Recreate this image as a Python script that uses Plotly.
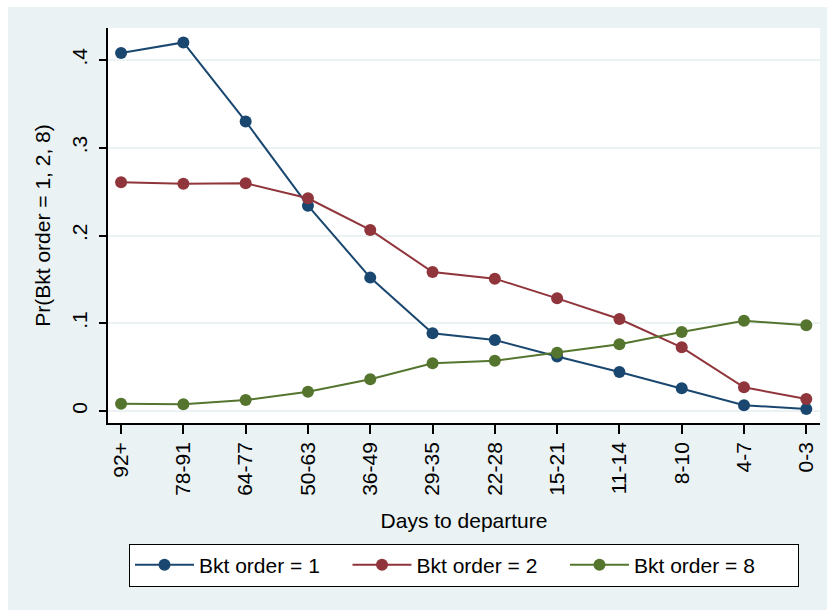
import plotly.graph_objects as go

# Days-to-departure buckets (furthest first)
days = ["92+", "78-91", "64-77", "50-63", "36-49", "29-35",
        "22-28", "15-21", "11-14", "8-10", "4-7", "0-3"]

# Predicted probability of each booking order
bkt1 = [0.408, 0.420, 0.330, 0.234, 0.152, 0.0885,
        0.081, 0.062, 0.0444, 0.0258, 0.0065, 0.0023]
bkt2 = [0.2606, 0.259, 0.2595, 0.2424, 0.2063, 0.1584,
        0.1508, 0.1284, 0.1048, 0.0726, 0.027, 0.0137]
bkt8 = [0.0083, 0.0076, 0.0125, 0.022, 0.0361, 0.0543,
        0.0573, 0.0665, 0.076, 0.090, 0.1029, 0.0977]

y_ticks = [0, 0.1, 0.2, 0.3, 0.4]
y_ticktext = ["0", ".1", ".2", ".3", ".4"]

series = [
    ("Bkt order = 1", bkt1, "#1A476F", None),
    ("Bkt order = 2", bkt2, "#90353B", None),
    ("Bkt order = 8", bkt8, "#55752F", 159),  # wider last entry pads the box
]

FONT = "Liberation Sans, Arial, sans-serif"
BG = "#EAF2F3"

fig = go.Figure()
for name, vals, col, lw in series:
    fig.add_trace(go.Scatter(
        x=days, y=vals, name=name, mode="lines+markers",
        line=dict(color=col, width=2),
        marker=dict(color=col, size=12),
        legendwidth=lw,
    ))

fig.update_layout(
    width=827, height=610,
    margin=dict(l=108, r=7, t=28, b=187),
    paper_bgcolor=BG,
    plot_bgcolor="white",
    font=dict(family=FONT, size=21, color="black"),
    showlegend=True,
    legend=dict(
        orientation="h", x=0.5, xanchor="center", y=-0.3054, yanchor="top",
        bgcolor="white", bordercolor="black", borderwidth=1,
        font=dict(size=21), entrywidth=143.5, entrywidthmode="pixels",
        itemwidth=59,
    ),
    shapes=[
        # white strips framing the graph region
        dict(type="rect", xref="paper", yref="paper", layer="above",
             x0=-108 / 712, x1=-100 / 712, y0=-187 / 395, y1=423 / 395,
             fillcolor="white", line_width=0),
        dict(type="rect", xref="paper", yref="paper", layer="above",
             x0=-108 / 712, x1=727 / 712, y0=1 + 21 / 395, y1=1 + 28 / 395,
             fillcolor="white", line_width=0),
    ],
)

fig.update_xaxes(
    type="category", range=[-0.21, 11.22],
    showline=True, linecolor="black", linewidth=1.5,
    ticks="outside", ticklen=9, tickwidth=1.5, tickcolor="black",
    tickangle=-90, showgrid=False, zeroline=False,
    title=dict(text="Days to departure", standoff=18, font=dict(size=21)),
)
fig.update_yaxes(
    range=[-0.01368, 0.43647],
    tickvals=y_ticks, ticktext=y_ticktext, tickangle=-90,
    ticklabelstandoff=4,
    showline=True, linecolor="black", linewidth=1.5,
    ticks="outside", ticklen=7, tickwidth=1.5, tickcolor="black",
    showgrid=True, gridcolor=BG, gridwidth=2, zeroline=False,
    title=dict(text="Pr(Bkt order = 1, 2, 8)", standoff=11, font=dict(size=21)),
)

fig.write_html("out.html")
